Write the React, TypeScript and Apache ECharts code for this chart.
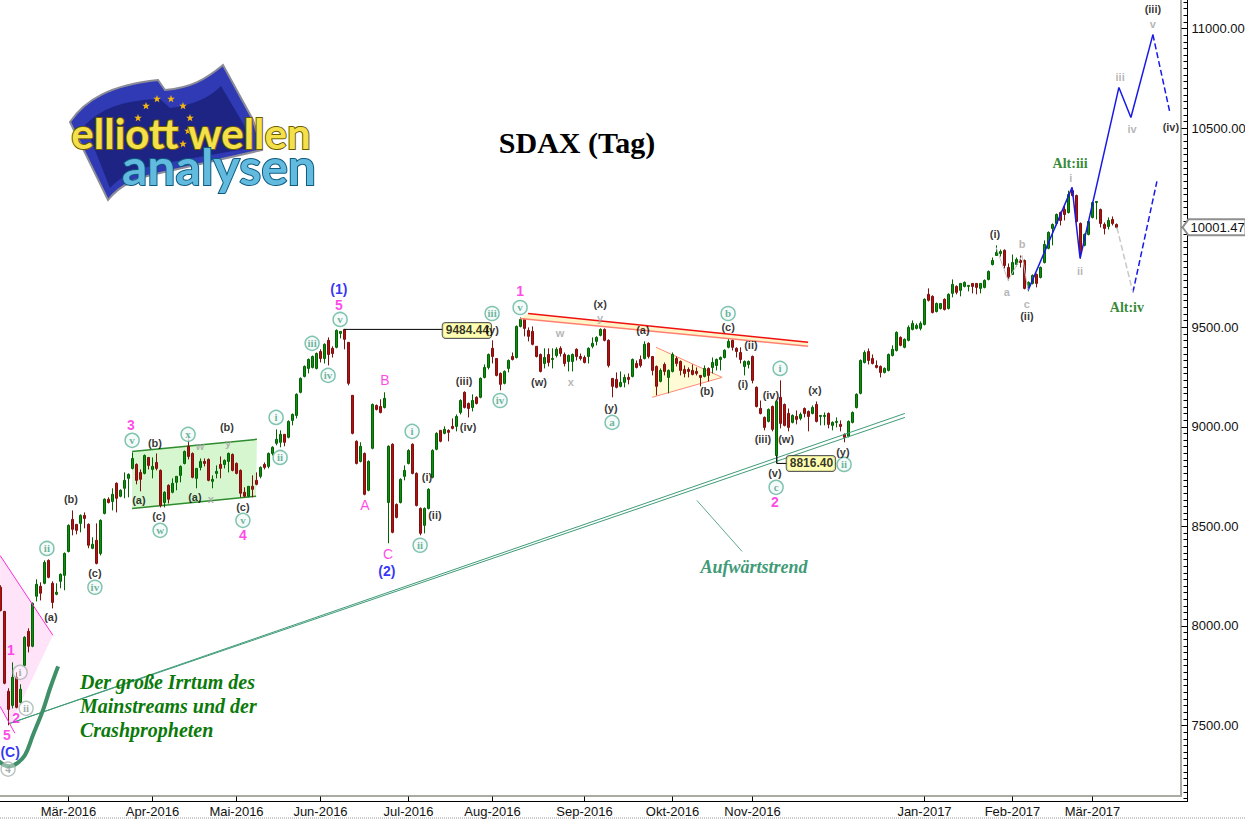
import React, { useEffect, useRef } from "react";
import * as echarts from "echarts";

// OHLC rows: [open, close, low, high], in trading-day order
const barsFeb2016 = [
  [8194,8078,8073,8204],[8073,7712,7707,8075],[7672,7581,7501,7687],[7601,7742,7586,7817],[7742,7591,7586,7767],
  [7616,7682,7611,7707],[7802,7943,7797,7948],[7973,7898,7867,7988],[7898,8113,7893,8118],[8149,8209,8123,8234],
  [8199,8164,8128,8219],[8214,8319,8209,8329],[8329,8244,8239,8334],[8214,8118,8088,8224],[8159,8169,8154,8214],
  [8224,8259,8189,8264],[8254,8364,8179,8369],
];
const barsMar2016 = [
  [8374,8505,8369,8510],[8535,8485,8455,8580],[8510,8480,8460,8510],[8515,8555,8470,8560],[8555,8540,8490,8570],
  [8510,8405,8390,8515],[8390,8410,8385,8445],[8430,8314,8309,8515],[8364,8530,8354,8535],[8565,8636,8560,8641],
  [8636,8620,8615,8646],[8625,8661,8580,8691],[8716,8641,8570,8721],[8651,8681,8646,8686],[8691,8731,8641,8771],
  [8741,8761,8646,8766],[8791,8841,8786,8871],[8811,8731,8711,8816],[8771,8736,8676,8786],[8766,8856,8761,8861],
  [8846,8806,8786,8846],
];
const barsApr2016 = [
  [8786,8801,8741,8846],[8821,8791,8781,8866],[8781,8605,8595,8786],[8620,8671,8595,8676],[8706,8636,8615,8711],
  [8671,8716,8666,8741],[8721,8751,8681,8751],[8756,8801,8721,8806],[8816,8876,8811,8881],[8902,8851,8836,8952],
  [8866,8746,8741,8871],[8741,8791,8691,8791],[8796,8826,8781,8841],[8826,8816,8801,8841],[8836,8731,8726,8841],
  [8726,8736,8691,8756],[8766,8776,8741,8806],[8811,8791,8741,8851],[8811,8831,8791,8836],[8826,8866,8771,8871],
  [8861,8781,8776,8866],
];
const barsMai2016 = [
  [8816,8766,8761,8821],[8781,8666,8646,8786],[8671,8651,8646,8696],[8651,8701,8646,8701],[8701,8686,8646,8756],
  [8731,8711,8706,8771],[8751,8796,8741,8801],[8811,8796,8786,8821],[8801,8866,8791,8871],[8866,8897,8856,8902],
  [8917,8937,8907,8987],[8922,8962,8897,8982],[8962,8922,8902,8962],[8947,9027,8942,9032],[9032,9062,9007,9067],
  [9057,9163,9042,9168],[9173,9243,9168,9248],[9253,9303,9248,9308],[9293,9338,9268,9343],[9298,9353,9293,9358],
  [9293,9368,9288,9373],
];
const barsJun2016 = [
  [9378,9343,9323,9389],[9343,9414,9318,9419],[9434,9363,9308,9449],[9394,9368,9348,9404],[9399,9484,9394,9489],
  [9469,9479,9444,9479],[9489,9439,9389,9489],[9424,9218,9208,9424],[9158,8967,8962,9158],[8927,8816,8811,8932],
  [8826,8902,8821,8922],[8866,8661,8656,8871],[8681,8826,8676,8831],[8892,9112,8887,9117],[9107,9087,9082,9112],
  [9102,9072,9067,9138],[9097,9143,9092,9173],[8620,8902,8415,8907],[8912,8470,8465,8917],[8610,8545,8540,8615],
  [8620,8736,8615,8741],[8751,8781,8731,8806],
];
const barsJul2016 = [
  [8816,8881,8811,8887],[8912,8766,8761,8917],[8766,8605,8600,8771],[8590,8465,8455,8595],[8505,8590,8465,8595],
  [8590,8686,8585,8691],[8746,8881,8741,8887],[8887,8967,8882,8972],[8982,8927,8922,8982],[8967,8987,8962,9002],
  [8982,8972,8927,8987],[9002,8992,8987,9042],[9002,9052,8977,9062],[9072,9132,9062,9138],[9173,9097,9092,9178],
  [9117,9092,9047,9122],[9097,9132,9077,9163],[9148,9117,9112,9153],[9148,9243,9143,9248],[9248,9298,9243,9313],
  [9298,9363,9288,9368],
];
const barsAug2016 = [
  [9394,9353,9318,9434],[9343,9258,9253,9343],[9268,9213,9183,9273],[9218,9278,9213,9283],[9293,9333,9273,9338],
  [9353,9338,9333,9373],[9348,9504,9343,9509],[9504,9539,9499,9549],[9539,9494,9454,9544],[9484,9454,9429,9499],
  [9479,9414,9409,9504],[9404,9353,9348,9404],[9363,9278,9273,9368],[9318,9348,9293,9394],[9363,9323,9303,9394],
  [9338,9343,9293,9394],[9358,9389,9348,9399],[9394,9368,9353,9404],[9363,9318,9303,9373],[9328,9358,9278,9363],
  [9328,9363,9278,9368],[9389,9353,9333,9394],[9353,9343,9333,9368],
];
const barsSep2016 = [
  [9348,9323,9318,9358],[9353,9394,9318,9399],[9404,9419,9394,9449],[9429,9449,9409,9454],[9459,9489,9454,9494],
  [9489,9434,9429,9494],[9434,9308,9298,9439],[9243,9203,9148,9243],[9238,9198,9193,9273],[9203,9223,9198,9278],
  [9223,9248,9198,9263],[9248,9238,9213,9268],[9253,9338,9248,9343],[9318,9298,9293,9333],[9338,9308,9298,9358],
  [9343,9414,9338,9429],[9419,9353,9343,9424],[9353,9283,9258,9353],[9303,9203,9158,9308],[9228,9283,9223,9293],
  [9313,9278,9258,9323],[9248,9283,9168,9288],
];
const barsOkt2016 = [
  [9278,9363,9273,9373],[9343,9318,9303,9353],[9328,9283,9258,9333],[9288,9268,9248,9308],[9288,9278,9248,9298],
  [9283,9263,9258,9313],[9278,9268,9258,9298],[9258,9248,9203,9258],[9253,9293,9248,9308],[9293,9258,9228,9298],
  [9298,9323,9268,9348],[9308,9338,9283,9343],[9338,9348,9283,9353],[9348,9384,9343,9389],[9399,9429,9394,9444],
  [9434,9399,9383,9439],[9394,9378,9348,9399],[9373,9338,9318,9399],[9303,9328,9258,9333],[9313,9328,9293,9333],
];
const barsNov2016 = [
  [9353,9233,9218,9358],[9198,9102,9097,9203],[9092,9067,9062,9132],[9047,8997,8982,9052],[9027,9087,9022,9092],
  [9102,8987,8977,9107],[8856,9127,8816,9132],[9148,9017,8992,9233],[9112,9007,9002,9117],[9067,8997,8977,9092],
  [9022,9057,9017,9062],[9052,9037,9012,9082],[9042,9062,9032,9072],[9092,9067,9047,9097],[9077,9052,8977,9082],
  [9067,9097,9062,9107],[9112,9027,9022,9127],[9052,9057,9007,9057],[9052,9057,9007,9072],[9067,9012,8992,9072],
  [9007,9022,8982,9027],[9022,9027,8997,9047],
];
const barsDez2016 = [
  [9012,9002,8977,9032],[8962,8947,8922,8967],[8952,9027,8947,9032],[9022,9072,9017,9077],[9097,9163,9092,9168],
  [9168,9333,9163,9338],[9323,9373,9318,9383],[9378,9333,9313,9393],[9343,9318,9313,9363],[9308,9298,9293,9333],
  [9303,9273,9248,9308],[9273,9293,9268,9298],[9283,9363,9278,9368],[9358,9389,9353,9409],[9383,9474,9378,9479],
  [9449,9409,9404,9454],[9399,9439,9394,9444],[9434,9499,9429,9509],[9489,9519,9484,9534],[9494,9509,9489,9519],
  [9494,9519,9484,9529],
];
const barsJan2017 = [
  [9514,9640,9509,9645],[9665,9635,9629,9695],[9655,9574,9569,9660],[9579,9619,9574,9624],[9594,9619,9589,9619],
  [9640,9589,9584,9645],[9594,9665,9589,9670],[9670,9715,9650,9740],[9705,9675,9665,9710],[9685,9720,9655,9720],
  [9705,9725,9700,9730],[9705,9710,9680,9710],[9720,9705,9670,9720],[9720,9700,9665,9720],[9695,9720,9670,9720],
  [9700,9735,9695,9740],[9740,9780,9735,9785],[9815,9835,9810,9850],[9860,9875,9860,9911],[9870,9880,9855,9890],
  [9886,9810,9795,9891],[9800,9750,9735,9820],
];
const barsFeb2017 = [
  [9765,9825,9765,9865],[9815,9840,9805,9850],[9835,9825,9800,9860],[9835,9695,9690,9840],[9700,9725,9680,9730],
  [9720,9760,9715,9765],[9765,9720,9700,9770],[9750,9800,9745,9805],[9825,9916,9820,9936],[9896,9976,9891,9981],
  [9996,10016,9911,10021],[10021,10066,10011,10071],[10076,10036,10011,10081],[10091,10066,10036,10111],
  [10076,10166,10071,10186],[10186,10161,10156,10196],[10161,10031,10026,10166],[10021,9875,9845,10026],
  [9911,9966,9906,9971],[9966,10031,9961,10036],
];
const barsMar2017 = [
  [10051,10126,10046,10131],[10126,10131,10041,10131],[10091,10021,10001,10096],[10016,9996,9966,10026],
  [10006,10036,9991,10051],[10041,10021,10011,10056],[10016,10001.47,9996,10021],
];
const allBars = [
  ...barsFeb2016, ...barsMar2016, ...barsApr2016, ...barsMai2016, ...barsJun2016, ...barsJul2016, ...barsAug2016,
  ...barsSep2016, ...barsOkt2016, ...barsNov2016, ...barsDez2016, ...barsJan2017, ...barsFeb2017, ...barsMar2017,
];

// Axis ticks
const monthBars = [17, 38, 59, 80, 102, 123, 146, 168, 188, 231, 253, 273];
const monthLabels = ["Mär-2016","Apr-2016","Mai-2016","Jun-2016","Jul-2016","Aug-2016","Sep-2016","Okt-2016","Nov-2016","Jan-2017","Feb-2017","Mär-2017"];
const priceLabels = [7500, 8000, 8500, 9000, 9500, 10500, 11000];
const priceMajorTicks = [7500, 8000, 8500, 9000, 9500, 10000, 10500, 11000];
const lastClose = 10001.47;
const peakLabel = "9484.44";
const lowLabel = "8816.40";

// Wave annotations: [text, bar index, price]
const waveBlack = [
  ["(a)",12.6,8043],["(b)",17.6,8636],["(c)",23.6,8264],["(b)",38.6,8917],["(a)",34.6,8630],["(c)",39.6,8550],
  ["(a)",48.6,8646],["(b)",56.6,8997],["(c)",60.6,8595],["(i)",106.6,8746],["(ii)",108.6,8555],["(iii)",115.9,9228],
  ["(iv)",116.9,8997],["(w)",134.6,9223],["(x)",149.9,9619],["(y)",152.6,9092],["(a)",160.6,9484],
  ["(b)",176.6,9178],["(c)",181.9,9499],["(ii)",187.6,9409],["(i)",185.6,9213],["(iv)",192.6,9158],["(iii)",190.6,8937],
  ["(w)",196.4,8937],["(x)",203.6,9183],["(y)",210.6,8872],["(v)",193.6,8766],["(i)",248.6,9966],["(ii)",256.6,9554],
  ["(iii)",288.1,11099],["(iv)",292.6,10503],
];
const waveCircled = [
  ["v",32.9,8932],["ii",11.6,8389],["iv",23.6,8194],["w",39.9,8480],["x",46.9,8962],["v",60.6,8530],["i",68.9,9047],
  ["ii",69.9,8846],["iii",77.9,9419],["iv",81.9,9258],["v",84.9,9539],["i",102.9,8977],["ii",104.9,8405],
  ["iii",122.9,9569],["iv",124.9,9132],["v",129.9,9599],["a",152.9,9022],["b",181.9,9569],["i",194.9,9293],
  ["c",193.9,8696],["ii",210.9,8811],
];
const waveCircledGrey = [["i",4.9,7767],["ii",6.4,7586],["4",1.9,7281]];
const waveMagentaBold = [
  ["3",32.6,9007],["4",60.6,8455],["5",84.6,9614],["1",129.9,9680],["2",193.6,8620],["1",2.6,7877],["2",3.9,7536],["5",1.6,7451],
];
const waveMagenta = [["A",91.1,8605],["B",96.1,9233],["C",96.9,8359]];
const waveBlue = [["(1)",84.6,9690],["(2)",96.6,8274],["(C)",2.4,7366]];
const waveGrey = [
  ["w",49.9,8902],["y",56.9,8917],["x",52.6,8636],["w",139.9,9469],["x",142.6,9223],["y",149.9,9544],["i",267.6,10247],
  ["ii",269.9,9780],["a",251.6,9675],["b",255.4,9916],["c",256.6,9619],["iii",279.9,10754],["iv",282.9,10493],["v",288.1,11024],
];
const waveAlt = [["Alt:iii",267.4,10322],["Alt:iv",281.6,9599]];
const priceBoxes = [[peakLabel,116.6,9484],[lowLabel,202.6,8816]];
const waveBlackOverBox = [["(y)",122.9,9484]];

// Drawn lines: [bar index, price]
const trendUpperEdge = [[2.4,7511],[226.1,9067]];
const trendLowerEdge = [[2.4,7511],[226.1,9047]];
const redUpper = [[131.9,9569],[201.9,9424]];
const redLower = [[129.9,9544],[201.9,9404]];
const triangleTop = [[163.9,9399],[180.4,9248]];
const triangleBottom = [[162.9,9148],[180.4,9248]];
const channelTop = [[32.9,8876],[64.1,8937]];
const channelBottom = [[32.9,8590],[63.9,8651]];
const pinkTop = [[-0.1,8354],[13.1,7953]];
const pinkBottom = [[-0.1,7596],[3.6,7461]];
const blueWave = [[256.9,9685],[267.9,10202],[269.9,9845],[279.6,10704],[282.6,10553],[288.1,10969]];
const blueDashA = [[288.1,10969],[292.4,10573]];
const blueDashB = [[283.1,9675],[289.1,10232]];
const greyDash = [[279.1,10001],[283.1,9675]];
const greyAbc = [[248.9,9901],[251.9,9735],[255.4,9860],[256.9,9685]];
const peakConnector = [[85.9,9489],[110.6,9489]];
const lowConnector = [[194.1,8856],[194.1,8816],[196.6,8816]];
const trendPointer = [[174.1,8630],[185.4,8374]];
const crashCurve = [[-0.4,7320],[1.1,7300],[2.4,7295],[4.1,7310],[6.1,7350],[8.1,7451],[10.6,7576],[12.4,7687],[14.4,7797]];

// Filled areas
const pinkArea = [[-0.1,8354],[13.1,7953],[2.4,7501],[-0.1,7596]];
const channelArea = [[32.9,8876],[64.1,8937],[63.9,8651],[32.9,8590]];
const triangleArea = [[163.9,9399],[180.4,9248],[162.9,9148]];
const redArea = [[131.9,9569],[201.9,9424],[201.9,9404],[129.9,9544]];

const crashLines = ["Der große Irrtum des", "Mainstreams und der", "Crashpropheten"];
const titleText = "SDAX (Tag)";
const trendText = "Aufwärtstrend";
const logoTop = "elliott wellen";
const logoBottom = "analysen";

const SANS = "'Liberation Sans', Arial, sans-serif";
const SERIF = "'Liberation Serif', 'Times New Roman', serif";

const makeLine = (data: number[][], color: string, width: number, type = "solid", smooth: number | boolean = false, z = 4) => ({
  type: "line", data, silent: true, animation: false, symbol: "none", smooth, z,
  lineStyle: { color, width, type }, clip: false,
});

const makeArea = (points: number[][], fill: string) => ({
  type: "custom", data: [[0, 9000]], silent: true, z: 1, clip: false, encode: { x: 0, y: 1 },
  renderItem: (_p: any, api: any) => ({
    type: "polygon",
    shape: { points: points.map((q) => api.coord(q)) },
    style: { fill },
  }),
});

const makeLabels = (rows: any[][], label: any, itemStyle: any = { color: "transparent" }, symbolSize = 1, z = 6) => ({
  type: "scatter", silent: true, z, symbolSize, itemStyle,
  data: rows.map((r) => ({ name: r[0], value: [r[1], r[2]] })),
  label: { show: true, position: "inside", formatter: "{b}", ...label },
});

const starPoints = (cx: number, cy: number, r: number) => {
  const pts: number[][] = [];
  for (let k = 0; k < 10; k++) {
    const rad = k % 2 ? r * 0.42 : r;
    const a = -Math.PI / 2 + (k * Math.PI) / 5;
    pts.push([cx + rad * Math.cos(a), cy + rad * Math.sin(a)]);
  }
  return pts;
};
const logoStars = [[146,106],[157,99],[171,99],[183,106],[190,118],[138,118],[188,131],[183,144]];

function App() {
  const ref = useRef<HTMLDivElement>(null);
  useEffect(() => {
    document.body.style.margin = "0";
    echarts.graphic.registerShape("flagOuter", echarts.graphic.extendPath(
      "M70 122 C85 100 110 85 158 80 L165 90 C190 88 205 80 223 65 L253 120 L262 150 L160 173 C135 178 120 185 108 200 Z", {}));
    echarts.graphic.registerShape("flagInner", echarts.graphic.extendPath(
      "M85 125 C105 105 130 100 160 99 L170 108 C195 105 210 97 221 86 L244 125 L250 148 L160 164 C135 169 120 177 110 188 Z", {}));
    const chart = echarts.init(ref.current!, undefined, { renderer: "svg" });
    const minorTicks: number[] = [];
    for (let k = 0; k * 100 / 3 + 7133.33 < 11140; k++) minorTicks.push(7133.33 + (k * 100) / 3);

    chart.setOption({
      animation: false,
      backgroundColor: "#fff",
      textStyle: { fontFamily: SANS },
      grid: { left: 0, top: 0, width: 1187.5, height: 801.5, outerBoundsMode: "none" },
      xAxis: {
        type: "value", min: -0.125, max: 296.75, position: "bottom",
        splitLine: { show: false },
        axisLine: { onZero: false, lineStyle: { color: "#000", width: 1 } },
        axisTick: { inside: true, length: 5, customValues: monthBars, lineStyle: { color: "#000" } },
        axisLabel: {
          customValues: monthBars, margin: 3, fontSize: 13, color: "#111", fontFamily: SANS,
          formatter: (v: number) => monthLabels[monthBars.indexOf(v)] ?? "",
        },
      },
      yAxis: [
        {
          type: "value", min: 7118.3, max: 11143.1, position: "right",
          splitLine: { show: false },
          axisLine: { onZero: false, lineStyle: { color: "#000", width: 1 } },
          axisTick: { inside: true, length: 6, customValues: priceMajorTicks, lineStyle: { color: "#000" } },
          axisLabel: {
            customValues: priceLabels, margin: 4, fontSize: 13, color: "#111", fontFamily: SANS,
            formatter: (v: number) => v.toFixed(2),
          },
        },
        {
          type: "value", min: 7118.3, max: 11143.1, position: "right",
          splitLine: { show: false },
          axisLine: { show: false, onZero: false },
          axisTick: { inside: true, length: 4, customValues: minorTicks, lineStyle: { color: "#000" } },
          axisLabel: { show: false },
        },
      ],
      graphic: [
        { type: "line", z: 0, shape: { x1: 1181, y1: 0, x2: 1181, y2: 796 }, style: { stroke: "#ABABA3", lineWidth: 2 } },
        { type: "line", z: 0, shape: { x1: 0, y1: 796, x2: 1182, y2: 796 }, style: { stroke: "#ABABA3", lineWidth: 2 } },
        { type: "line", z: 0, shape: { x1: 0, y1: 818, x2: 1245, y2: 818 }, style: { stroke: "#999", lineWidth: 1, lineDash: [1, 1] } },
        { type: "text", z: 8, x: 577, y: 142, style: { text: titleText, font: `bold 30px ${SERIF}`, fill: "#000", align: "center", verticalAlign: "middle" } },
        { type: "text", z: 8, x: 754, y: 567, style: { text: trendText, font: `italic bold 18px ${SERIF}`, fill: "#3F9A78", align: "center", verticalAlign: "middle" } },
        ...crashLines.map((t, k) => ({
          type: "text", z: 8, x: 80, y: 682 + k * 24,
          style: { text: t, font: `italic bold 20px ${SERIF}`, fill: "#0B7A0B", align: "left", verticalAlign: "middle" },
        })),
        { type: "flagOuter", z: 8, style: { fill: "#2F3AB4", stroke: "#8C8C98", lineWidth: 2 } },
        { type: "flagInner", z: 8, style: { fill: "#1D2484" } },
        ...logoStars.map((s) => ({ type: "polygon", z: 8, shape: { points: starPoints(s[0], s[1], 4) }, style: { fill: "#F2B411" } })),
        { type: "text", z: 9, x: 191, y: 133, style: { text: logoTop, font: `bold 42px Lato, sans-serif`, fill: "#F4E04A", stroke: "#6B5A00", lineWidth: 2, align: "center", verticalAlign: "middle" } },
        { type: "text", z: 9, x: 219, y: 166, style: { text: logoBottom, font: `bold 50px Lato, sans-serif`, fill: "#62BBDE", stroke: "#0E5A80", lineWidth: 2, align: "center", verticalAlign: "middle" } },
      ],
      series: [
        makeArea(pinkArea, "#FFE3F8"),
        makeArea(channelArea, "#D6F6CF"),
        makeArea(triangleArea, "#FFFBD6"),
        makeArea(redArea, "#FFF4C8"),
        makeLine(channelTop, "#2E8B2E", 1.5, "solid", false, 2),
        makeLine(channelBottom, "#2E8B2E", 1.5, "solid", false, 2),
        makeLine(triangleTop, "#FF8A78", 1, "solid", false, 2),
        makeLine(triangleBottom, "#FF8A78", 1, "solid", false, 2),
        makeLine(trendUpperEdge, "#3F9B78", 1),
        makeLine(trendLowerEdge, "#3F9B78", 1),
        {
          type: "candlestick", z: 3, silent: true, barWidth: 3, clip: false,
          data: allBars.map((b, i) => [i, ...b]),
          encode: { x: 0, y: [1, 2, 3, 4] },
          itemStyle: { color: "#138A14", color0: "#B41010", borderColor: "#006400", borderColor0: "#7E1010", borderWidth: 1 },
        },
        makeLine(redUpper, "#F01010", 1.5),
        makeLine(redLower, "#FF8070", 1.5),
        makeLine(pinkTop, "#FF2BD6", 1),
        makeLine(pinkBottom, "#FF2BD6", 1),
        makeLine(blueWave, "#1A1AE6", 1.5),
        makeLine(blueDashA, "#1A1AE6", 1.5, "dashed"),
        makeLine(blueDashB, "#1A1AE6", 1.5, "dashed"),
        makeLine(greyDash, "#C8C8C8", 1.5, "dashed"),
        makeLine(greyAbc, "#C4C4C4", 1),
        makeLine(peakConnector, "#000", 1),
        makeLine(lowConnector, "#000", 1),
        makeLine(trendPointer, "#5FA88A", 1),
        makeLine(crashCurve, "#3F8F68", 4, "solid", 0.4),
        makeLabels(priceBoxes, {
          fontSize: 12, fontWeight: "bold", color: "#000", backgroundColor: "#FFFFA0", borderColor: "#333",
          borderWidth: 1, borderRadius: 3, padding: [2, 2, 1, 3],
        }),
        makeLabels(waveBlack, { fontSize: 11, fontWeight: "bold", color: "#000" }, undefined, 1, 7),
        makeLabels(waveBlackOverBox, { fontSize: 11, fontWeight: "bold", color: "#000" }, undefined, 1, 7),
        makeLabels(waveCircled, { fontSize: 11, fontWeight: "bold", color: "#4A9F86", fontFamily: SERIF }, { color: "#F2FAF7", borderColor: "#62B49C", borderWidth: 1.5 }, 14),
        makeLabels(waveCircledGrey, { fontSize: 11, fontWeight: "bold", color: "#8A9A96", fontFamily: SERIF }, { color: "rgba(255,255,255,0.5)", borderColor: "#A8B4B0", borderWidth: 1.5 }, 14),
        makeLabels(waveMagentaBold, { fontSize: 14, fontWeight: "bold", color: "#FF19E0" }),
        makeLabels(waveMagenta, { fontSize: 14, color: "#FF19E0" }),
        makeLabels(waveBlue, { fontSize: 14, fontWeight: "bold", color: "#0000F0" }),
        makeLabels(waveGrey, { fontSize: 11, fontWeight: "bold", color: "#A4A4A4" }),
        makeLabels(waveAlt, { fontSize: 14, fontWeight: "bold", color: "#006B00", fontFamily: SERIF }),
        {
          type: "custom", z: 9, silent: true, clip: false, data: [[296.75, lastClose]], encode: { x: 0, y: 1 },
          renderItem: (_p: any, api: any) => {
            const c = api.coord([api.value(0), api.value(1)]);
            const x = c[0];
            const y = c[1];
            return {
              type: "group",
              children: [
                {
                  type: "polygon",
                  shape: { points: [[x - 5, y], [x + 1, y - 8], [x + 58, y - 8], [x + 58, y + 8], [x + 1, y + 8]] },
                  style: { fill: "#fff", stroke: "#8F8F8F", lineWidth: 2 },
                },
                {
                  type: "text",
                  style: { text: lastClose.toFixed(2), x: x + 3, y, font: `13px ${SANS}`, fill: "#111", align: "left", verticalAlign: "middle" },
                },
              ],
            };
          },
        },
      ],
    });
    return () => chart.dispose();
  }, []);
  return <div ref={ref} style={{ position: "absolute", left: 0, top: 0, width: 1245, height: 819 }} />;
}

export default App;
